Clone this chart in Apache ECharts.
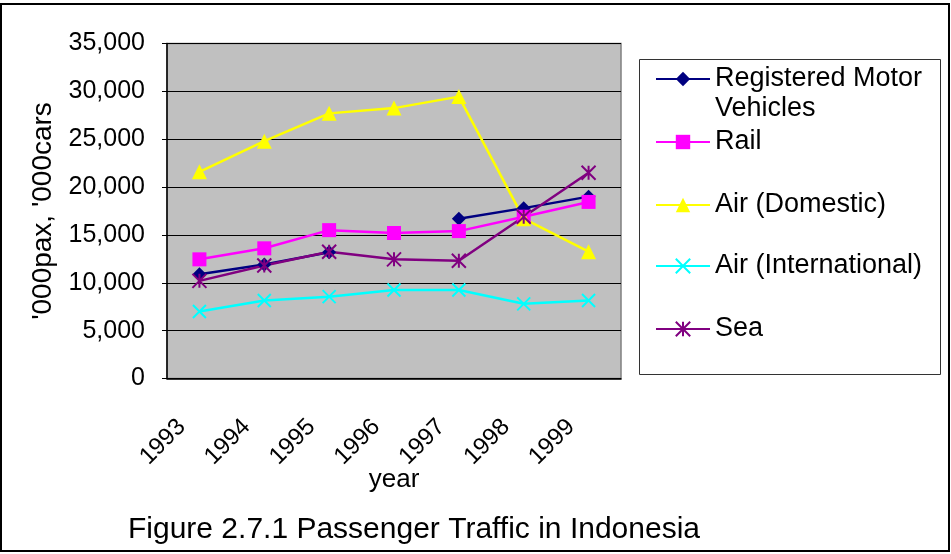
<!DOCTYPE html>
<html>
<head>
<meta charset="utf-8">
<script src="https://cdn.jsdelivr.net/npm/echarts@6/dist/echarts.min.js"></script>
<style>
  html, body { margin: 0; padding: 0; background: #ffffff; }
  #chart { width: 951px; height: 554px; }
</style>
</head>
<body>
<div id="chart"></div>
<script>
// Passenger traffic in Indonesia, thousands of passengers / cars
const years = ['1993', '1994', '1995', '1996', '1997', '1998', '1999'];
const motorVehicles = [10900, 11900, 13200, null, 16700, 17800, 19000];
const rail = [12450, 13600, 15500, 15200, 15400, 16900, 18450];
const airDomestic = [21600, 24800, 27700, 28250, 29450, 16700, 13250];
const airInternational = [7000, 8150, 8550, 9250, 9250, 7800, 8150];
const sea = [10200, 11800, 13250, 12450, 12300, 16900, 21500];
const yTicks = { min: 0, max: 35000, interval: 5000 };

const FONT = 'Liberation Sans, Arial, sans-serif';
const chart = echarts.init(document.getElementById('chart'), null, { renderer: 'canvas' });

const crossPath = 'path://M0 0L10 10M10 0L0 10';
const asteriskPath = 'path://M5 0L5 10M0 0L10 10M10 0L0 10';

function lineSeries(name, data, color, symbol, size, stroked) {
  return {
    name: name,
    type: 'line',
    data: data,
    connectNulls: false,
    symbol: symbol,
    symbolSize: size,
    lineStyle: { color: color, width: 2.5 },
    itemStyle: stroked
      ? { color: color, borderColor: color, borderWidth: 2 }
      : { color: color },
    emphasis: { disabled: true },
    z: 3
  };
}

// one legend block per entry so each row sits at its own height
const legendTops = [34, 127, 190, 251, 314];
const seriesNames = ['Registered Motor Vehicles', 'Rail', 'Air (Domestic)', 'Air (International)', 'Sea'];

const legends = seriesNames.map(function (name, i) {
  return {
    data: [name],
    orient: 'vertical',
    left: 655,
    top: legendTops[i],
    padding: 0,
    itemWidth: 54,
    itemHeight: 18,
    selectedMode: false,
    // blank first line keeps the marker level with "Registered Motor"
    formatter: function (n) { return n === seriesNames[0] ? ' \nRegistered Motor\nVehicles' : n; },
    textStyle: { fontFamily: FONT, fontSize: 27, lineHeight: 30, color: '#000' }
  };
});

chart.setOption({
  animation: false,
  backgroundColor: '#ffffff',
  title: {
    text: 'Figure 2.7.1 Passenger Traffic in Indonesia',
    left: 128,
    top: 515,
    padding: 0,
    textStyle: { fontFamily: FONT, fontSize: 30, fontWeight: 'normal', color: '#000' }
  },
  legend: legends,
  grid: {
    left: 167,
    right: 330,
    top: 43.5,
    bottom: 175.5,
    show: true,
    backgroundColor: '#C0C0C0',
    borderColor: '#808080',
    borderWidth: 1.5
  },
  xAxis: {
    type: 'category',
    data: years,
    boundaryGap: true,
    name: 'year',
    nameLocation: 'middle',
    nameGap: 88,
    nameMoveOverlap: false,
    nameTextStyle: { fontFamily: FONT, fontSize: 26, color: '#000' },
    axisLine: { lineStyle: { color: '#000', width: 1.5 } },
    axisTick: { inside: true, length: 8, alignWithLabel: false, lineStyle: { color: '#000' } },
    axisLabel: {
      rotate: 45,
      margin: 27,
      padding: [0, 25, 0, 0],
      fontFamily: FONT,
      fontSize: 24,
      color: '#000',
      interval: 0
    },
    splitLine: { show: false }
  },
  yAxis: {
    type: 'value',
    min: yTicks.min,
    max: yTicks.max,
    interval: yTicks.interval,
    name: "'000pax, '000cars",
    nameLocation: 'middle',
    nameGap: 110,
    nameMoveOverlap: false,
    nameTextStyle: { fontFamily: FONT, fontSize: 28, color: '#000' },
    axisLine: { show: true, lineStyle: { color: '#000', width: 1.5 } },
    axisTick: { show: true, inside: false, length: 5, lineStyle: { color: '#000' } },
    axisLabel: {
      margin: 22,
      fontFamily: FONT,
      fontSize: 25,
      color: '#000',
      formatter: function (v) { return v.toLocaleString('en-US'); }
    },
    splitLine: { show: true, lineStyle: { color: '#000', width: 1 } }
  },
  series: [
    lineSeries(seriesNames[0], motorVehicles, '#000080', 'diamond', 14, false),
    lineSeries(seriesNames[1], rail, '#FF00FF', 'rect', 14, false),
    lineSeries(seriesNames[2], airDomestic, '#FFFF00', 'triangle', 15, false),
    lineSeries(seriesNames[3], airInternational, '#00FFFF', crossPath, 13, true),
    lineSeries(seriesNames[4], sea, '#800080', asteriskPath, 14, true)
  ],
  graphic: [
    {
      type: 'rect',
      shape: { x: 1, y: 4, width: 948, height: 547 },
      style: { fill: 'none', stroke: '#000', lineWidth: 2 },
      silent: true
    },
    {
      type: 'rect',
      shape: { x: 639.5, y: 59.5, width: 301, height: 315 },
      style: { fill: 'none', stroke: '#333', lineWidth: 1 },
      silent: true,
      z: -1
    }
  ]
});
</script>
</body>
</html>
